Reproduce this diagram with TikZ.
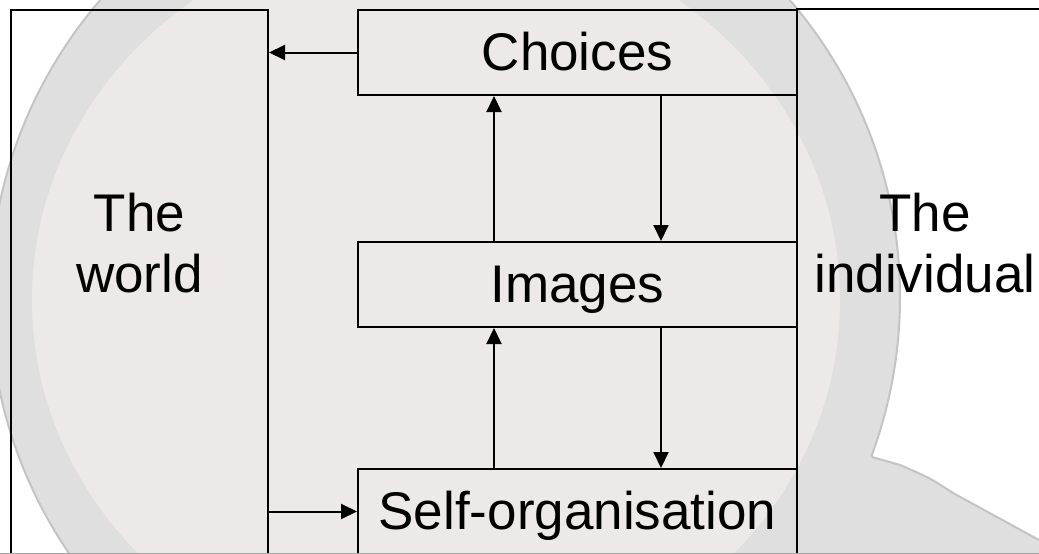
\documentclass[tikz,border=0pt]{standalone}
\usepackage{fontspec}
\setmainfont{Liberation Sans}
\usetikzlibrary{arrows.meta}
\definecolor{ghead}{RGB}{223,223,223}
\definecolor{gedge}{RGB}{196,196,196}
\definecolor{pinkbg}{RGB}{238,233,233}
\definecolor{bline}{RGB}{165,165,165}
\begin{document}
\begin{tikzpicture}[x=1pt,y=-1pt,
  box/.style={draw=black,line width=2pt,rectangle,inner sep=0pt},
  lbl/.style={font=\fontsize{53}{61}\selectfont, text height=38pt, text depth=3pt},
  side/.style={font=\fontsize{53}{61}\selectfont, align=center, inner sep=0pt, anchor=north},
  arr/.style={line width=2pt,-{Triangle[length=16pt,width=15pt]}}]
\useasboundingbox (0,0) rectangle (1039,554);
\clip (0,0) rectangle (1039,554);
\fill[white] (0,0) rectangle (1039,554);
% background watermark (head silhouette)
\filldraw[fill=ghead,draw=gedge,line width=2pt] (445,297) circle[radius=455];
\fill[ghead] (840,440) -- (872,457) -- (900,465) .. controls (930,478) .. (953,493) -- (1039,540) -- (1045,560) -- (800,560) -- cycle;
\draw[gedge,line width=2pt] (872,457) -- (900,465) .. controls (930,478) .. (953,493) -- (1039,540);
\fill[pinkbg] (436,300) ellipse[x radius=404, y radius=375];
% frames
\node[box,minimum width=257pt,minimum height=560pt] (world) at (139.5,290) {};
\node[box,minimum width=253pt,minimum height=561pt] (indiv) at (923.5,289.5) {};
% boxes
\node[box,lbl,minimum width=439pt,minimum height=85pt] (choices) at (577.5,52.5) {Choices};
\node[box,lbl,minimum width=439pt,minimum height=85pt] (images) at (577.5,284.5) {Images};
\node[box,lbl,minimum width=439pt,minimum height=85pt] (selforg) at (577.5,511.5) {Self-organisation};
% side labels
\node[side] (worldlbl) at (139.5,193) {The\\world};
\node[side] (indivlbl) at (925,193) {The\\individual};
% connectors
\draw[arr] (choices.west) -- (choices.west -| world.east);
\draw[arr] (world.east |- selforg.west) -- (selforg.west);
\draw[arr] ([xshift=-83.5pt]images.north) -- ([xshift=-83.5pt]choices.south);
\draw[arr] ([xshift=83.5pt]choices.south) -- ([xshift=83.5pt]images.north);
\draw[arr] ([xshift=-83.5pt]selforg.north) -- ([xshift=-83.5pt]images.south);
\draw[arr] ([xshift=83.5pt]images.south) -- ([xshift=83.5pt]selforg.north);
\draw[bline,line width=1.5pt] (0,553.5) -- (1039,553.5);
\end{tikzpicture}
\end{document}
